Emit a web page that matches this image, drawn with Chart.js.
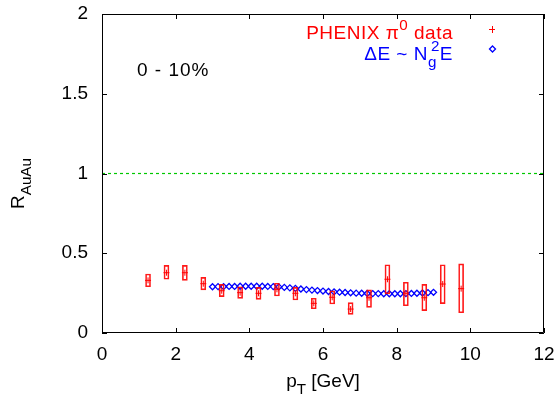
<!DOCTYPE html>
<html>
<head>
<meta charset="utf-8">
<script src="https://cdn.jsdelivr.net/npm/chart.js@4/dist/chart.umd.min.js"></script>
<style>
  html, body { margin: 0; padding: 0; background: #fff; }
</style>
</head>
<body>
<canvas id="raaChart" width="557" height="394"></canvas>
<script>
// PHENIX pi0 R_AuAu, 0-10% centrality
const ptData  = [1.25, 1.75, 2.25, 2.75, 3.25, 3.75, 4.25, 4.75, 5.25, 5.75, 6.25, 6.75, 7.25, 7.75, 8.25, 8.75, 9.25, 9.75];
const raaData = [0.330, 0.378, 0.378, 0.309, 0.265, 0.253, 0.249, 0.274, 0.249, 0.186, 0.224, 0.150, 0.221, 0.337, 0.249, 0.221, 0.307, 0.278];
const sysLow  = [0.290, 0.337, 0.330, 0.270, 0.228, 0.217, 0.211, 0.232, 0.207, 0.152, 0.182, 0.117, 0.161, 0.245, 0.171, 0.140, 0.184, 0.127];
const sysHigh = [0.370, 0.424, 0.424, 0.349, 0.305, 0.290, 0.286, 0.312, 0.286, 0.218, 0.265, 0.190, 0.270, 0.428, 0.318, 0.305, 0.428, 0.433];

// energy loss calculation, dE ~ Ng^2 E
const ptModel  = [3.00, 3.15, 3.30, 3.45, 3.60, 3.75, 3.90, 4.05, 4.20, 4.35, 4.50, 4.65, 4.80, 4.95,
                  5.10, 5.25, 5.40, 5.55, 5.70, 5.85, 6.00, 6.15, 6.30, 6.45, 6.60, 6.75, 6.90, 7.05,
                  7.20, 7.35, 7.50, 7.65, 7.80, 7.95, 8.10, 8.25, 8.40, 8.55, 8.70, 8.85, 9.00];
const raaModel = [0.290, 0.291, 0.291, 0.292, 0.292, 0.293, 0.293, 0.293, 0.293, 0.293, 0.292, 0.291, 0.289, 0.286,
                  0.283, 0.280, 0.276, 0.272, 0.269, 0.266, 0.263, 0.260, 0.258, 0.256, 0.254, 0.252, 0.250, 0.249,
                  0.248, 0.247, 0.247, 0.246, 0.246, 0.246, 0.246, 0.247, 0.248, 0.249, 0.251, 0.253, 0.255];

const xTicks = [0, 2, 4, 6, 8, 10, 12];
const yTicks = [0, 0.5, 1, 1.5, 2];
const unityLine = [1, 1];

const FONT = '"Liberation Sans", Arial, Helvetica, sans-serif';
const RED = '#ff0000';
const BLUE = '#0000ff';
const GREEN = 'rgb(0,200,0)';

// draw a run of text pieces (normal / sub / sup), left to right
function richWidth(ctx, parts, size) {
  let w = 0;
  parts.forEach(p => {
    ctx.font = (p.s ? size * 0.8 : size) + 'px ' + FONT;
    w += ctx.measureText(p.t).width + (p.dx || 0);
  });
  return w;
}
function drawRich(ctx, parts, x, y, size) {
  parts.forEach(p => {
    const fs = p.s ? size * 0.8 : size;
    ctx.font = fs + 'px ' + FONT;
    ctx.fillText(p.t, x, y + (p.s === 'sub' ? size * 0.35 : p.s === 'sup' ? -size * 0.45 : 0));
    x += ctx.measureText(p.t).width + (p.dx || 0);
  });
}

// no extra room for overhanging tick labels, the frame sits where the padding says
function noOverhang(s) {
  s.paddingTop = 0; s.paddingBottom = 0; s.paddingLeft = 0; s.paddingRight = 0;
}

const frame = {
  id: 'frame',
  afterDatasetsDraw(chart) {
    const ctx = chart.ctx;
    const { left, right, top, bottom } = chart.chartArea;
    const xs = chart.scales.x, ys = chart.scales.y;
    const tl = 5;
    ctx.save();
    ctx.strokeStyle = '#000';
    ctx.lineWidth = 1;
    ctx.beginPath();
    ctx.rect(left + 0.5, top + 0.5, right - left - 1, bottom - top - 1);
    xTicks.forEach(v => {
      const px = Math.round(xs.getPixelForValue(v)) + 0.5;
      ctx.moveTo(px, bottom); ctx.lineTo(px, bottom - tl);
      ctx.moveTo(px, top); ctx.lineTo(px, top + tl);
    });
    yTicks.forEach(v => {
      const py = Math.round(ys.getPixelForValue(v)) + 0.5;
      ctx.moveTo(left, py); ctx.lineTo(left + tl, py);
      ctx.moveTo(right, py); ctx.lineTo(right - tl, py);
    });
    ctx.stroke();
    ctx.restore();
  },
  afterDraw(chart) {
    const ctx = chart.ctx;
    const { left, right, top, bottom } = chart.chartArea;
    const fs = 19;
    ctx.save();
    ctx.textBaseline = 'alphabetic';
    ctx.textAlign = 'left';

    // centrality label
    ctx.letterSpacing = '1px';
    ctx.fillStyle = '#000';
    ctx.font = fs + 'px ' + FONT;
    ctx.fillText('0 - 10%', left + 35, top + 62);

    // key
    ctx.letterSpacing = '0.5px';
    const keyRight = right - 91;
    const l1 = [{ t: 'PHENIX \u03c0' }, { t: '0', s: 'sup' }, { t: ' data' }];
    ctx.fillStyle = RED;
    drawRich(ctx, l1, keyRight - richWidth(ctx, l1, fs), top + 25, fs);
    const l2 = [{ t: '\u0394E ~ N' }, { t: 'g', s: 'sub', dx: -6 }, { t: '2', s: 'sup' }, { t: 'E' }];
    ctx.fillStyle = BLUE;
    drawRich(ctx, l2, keyRight - richWidth(ctx, l2, fs), top + 46, fs);
    ctx.letterSpacing = '0px';

    const mx = right - 52;
    ctx.strokeStyle = RED;
    ctx.lineWidth = 1;
    ctx.beginPath();
    ctx.moveTo(mx - 3, top + 15.5); ctx.lineTo(mx + 3, top + 15.5);
    ctx.moveTo(mx + 0.5, top + 12); ctx.lineTo(mx + 0.5, top + 19);
    ctx.stroke();
    ctx.strokeStyle = BLUE;
    ctx.lineWidth = 1.3;
    ctx.beginPath();
    const dy = top + 35;
    ctx.moveTo(mx + 0.5, dy - 3); ctx.lineTo(mx + 3.5, dy); ctx.lineTo(mx + 0.5, dy + 3); ctx.lineTo(mx - 2.5, dy); ctx.closePath();
    ctx.stroke();

    // axis titles
    ctx.fillStyle = '#000';
    const xt = [{ t: 'p' }, { t: 'T', s: 'sub' }, { t: ' [GeV]' }];
    const cx = (left + right) / 2;
    drawRich(ctx, xt, cx - richWidth(ctx, xt, fs) / 2, 387, fs);

    ctx.translate(24, (top + bottom) / 2 + 10);
    ctx.rotate(-Math.PI / 2);
    const yt = [{ t: 'R' }, { t: 'AuAu', s: 'sub' }];
    drawRich(ctx, yt, -richWidth(ctx, yt, fs) / 2, 0, fs);
    ctx.restore();
  }
};

new Chart(document.getElementById('raaChart'), {
  type: 'scatter',
  data: {
    datasets: [
      {
        type: 'bar',
        label: 'sys',
        data: ptData.map((x, i) => ({ x: x, y: [sysLow[i], sysHigh[i]] })),
        backgroundColor: 'rgba(0,0,0,0)',
        borderColor: 'rgba(255,0,0,0.9)',
        borderWidth: 1,
        borderSkipped: false,
        barThickness: 5,
        grouped: false
      },
      {
        label: 'PHENIX pi0 data',
        data: ptData.map((x, i) => ({ x: x, y: raaData[i] })),
        pointStyle: 'cross',
        pointRadius: 3,
        borderColor: RED,
        borderWidth: 1
      },
      {
        label: 'dE ~ Ng^2 E',
        data: ptModel.map((x, i) => ({ x: x, y: raaModel[i] })),
        pointStyle: 'rectRot',
        pointRadius: 3,
        borderColor: BLUE,
        backgroundColor: 'rgba(255,255,255,0)',
        borderWidth: 1.3
      },
      {
        type: 'line',
        label: 'unity',
        data: [{ x: xTicks[0], y: unityLine[0] }, { x: xTicks[xTicks.length - 1], y: unityLine[1] }],
        borderColor: GREEN,
        backgroundColor: GREEN,
        borderWidth: 1.2,
        borderDash: [3, 3],
        pointRadius: 0,
        fill: false
      }
    ]
  },
  options: {
    responsive: false,
    devicePixelRatio: 1,
    animation: false,
    layout: { padding: { left: 0, right: 13, top: 14, bottom: 0 } },
    plugins: { legend: { display: false }, tooltip: { enabled: false } },
    scales: {
      x: {
        type: 'linear',
        min: 0, max: 12,
        offset: false,
        afterBuildTicks: s => { s.ticks = xTicks.map(v => ({ value: v })); },
        afterFit: s => { s.height = 61; noOverhang(s); },
        grid: { display: false, drawTicks: false, offset: false },
        border: { display: false },
        ticks: { padding: 10, color: '#000', font: { family: FONT, size: 19 }, maxRotation: 0, autoSkip: false,
                 callback: v => String(v) }
      },
      y: {
        type: 'linear',
        min: 0, max: 2,
        afterBuildTicks: s => { s.ticks = yTicks.map(v => ({ value: v })); },
        afterFit: s => { s.width = 102; noOverhang(s); },
        grid: { display: false, drawTicks: false },
        border: { display: false },
        ticks: { padding: 14, color: '#000', font: { family: FONT, size: 19 }, callback: v => String(v) }
      }
    }
  },
  plugins: [frame]
});
</script>
</body>
</html>
